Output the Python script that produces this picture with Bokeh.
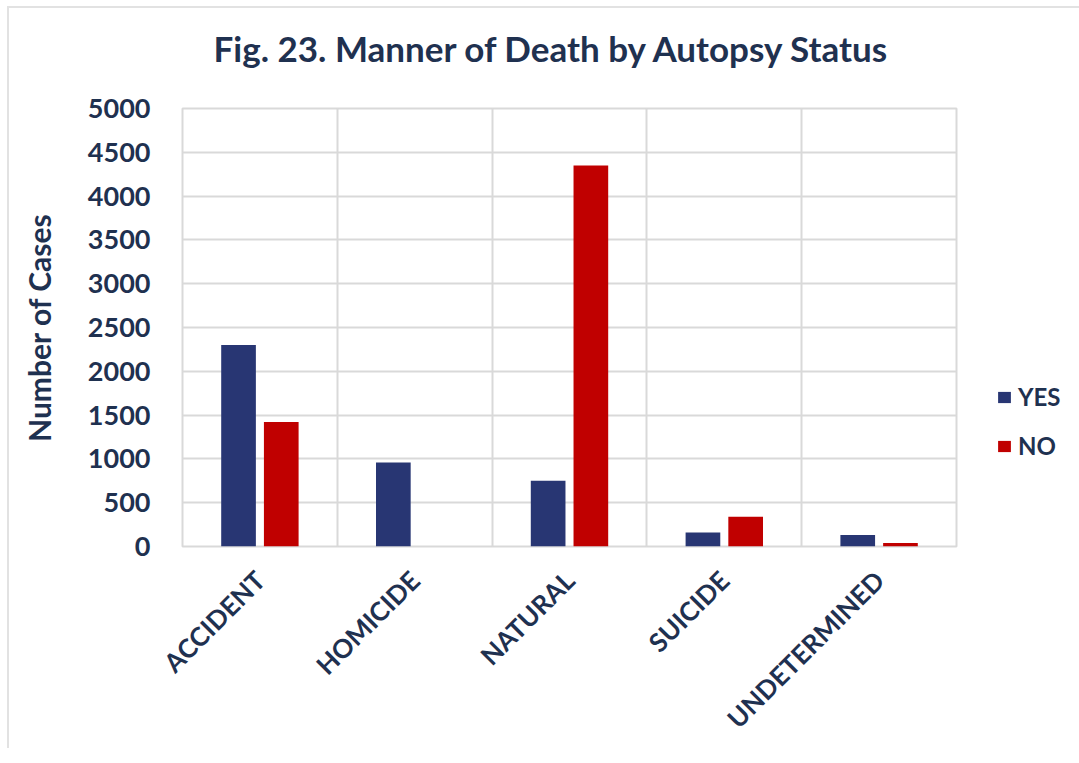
from bokeh.plotting import figure
from bokeh.models import ColumnDataSource, FixedTicker, Legend, LegendItem
from bokeh.transform import dodge
from bokeh.embed import file_html
from bokeh.resources import INLINE
import math

categories = ["ACCIDENT", "HOMICIDE", "NATURAL", "SUICIDE", "UNDETERMINED"]
yes_values = [2300, 960, 750, 160, 130]
no_values = [1420, 0, 4350, 340, 40]
y_ticks = [0, 500, 1000, 1500, 2000, 2500, 3000, 3500, 4000, 4500, 5000]
series_names = ["YES", "NO"]

NAVY = "#283673"
RED = "#C00000"
TEXT = "#1f3150"
GRID = "#d9d9d9"
EDGE = "#e2e2e2"
FONT = "Lato"

src = ColumnDataSource(dict(cat=categories, yes=yes_values, no=no_values))

p = figure(
    x_range=categories, y_range=(0, 5000),
    frame_width=774, frame_height=438,
    output_backend="svg", toolbar_location=None,
    min_border_left=175, min_border_right=108,
    min_border_top=124, min_border_bottom=200,
    title="Fig. 23. Manner of Death by Autopsy Status",
)
# thin outer edge of the chart area (top and left), drawn behind a transparent canvas
p.styles = {
    "margin-left": "7px",
    "margin-top": "-16px",
    "background": (f"linear-gradient({EDGE},{EDGE}) 0 22px / 100% 2px no-repeat, "
                   f"linear-gradient({EDGE},{EDGE}) 0 22px / 2px 100% no-repeat"),
}
p.border_fill_color = None
p.background_fill_color = "white"

r_yes = p.vbar(x=dodge("cat", -0.138, range=p.x_range), top="yes", width=0.224,
               source=src, fill_color=NAVY, line_color=None)
r_no = p.vbar(x=dodge("cat", 0.138, range=p.x_range), top="no", width=0.224,
              source=src, fill_color=RED, line_color=None)

# title
p.title.text_font = FONT
p.title.text_font_size = "35px"
p.title.text_font_style = "bold"
p.title.text_color = TEXT
p.title.align = "left"
p.title.offset = 31
p.title.standoff = 80

# frame
p.outline_line_color = GRID
p.outline_line_width = 2

# grids
p.ygrid.ticker = FixedTicker(ticks=y_ticks)
p.ygrid.grid_line_color = GRID
p.ygrid.grid_line_width = 2
p.xgrid.ticker = FixedTicker(ticks=list(range(1, len(categories))))
p.xgrid.grid_line_color = GRID
p.xgrid.grid_line_width = 2

# y axis
p.yaxis.ticker = FixedTicker(ticks=y_ticks)
p.yaxis.axis_line_color = None
p.yaxis.major_tick_line_color = None
p.yaxis.minor_tick_line_color = None
p.yaxis.major_tick_out = 0
p.yaxis.major_tick_in = 0
p.yaxis.minor_tick_out = 0
p.yaxis.major_label_text_font = FONT
p.yaxis.major_label_text_font_size = "27px"
p.yaxis.major_label_text_font_style = "bold"
p.yaxis.major_label_text_color = TEXT
p.yaxis.major_label_standoff = 32
p.yaxis.axis_label = "Number of Cases"
p.yaxis.axis_label_text_font = FONT
p.yaxis.axis_label_text_font_size = "30px"
p.yaxis.axis_label_text_font_style = "bold"
p.yaxis.axis_label_text_color = TEXT
p.yaxis.axis_label_standoff = 28

# x axis
p.xaxis.axis_line_color = None
p.xaxis.major_tick_line_color = None
p.xaxis.minor_tick_line_color = None
p.xaxis.major_tick_out = 0
p.xaxis.major_tick_in = 0
p.xaxis.major_label_orientation = math.pi / 4
p.xaxis.major_label_text_font = FONT
p.xaxis.major_label_text_font_size = "26px"
p.xaxis.major_label_text_font_style = "bold"
p.xaxis.major_label_text_color = TEXT
p.xaxis.major_label_standoff = 29

legend = Legend(
    items=[LegendItem(label=series_names[0], renderers=[r_yes]),
           LegendItem(label=series_names[1], renderers=[r_no])],
    location=(40, 86),
    padding=0, margin=0, spacing=20,
    glyph_width=16, glyph_height=14, label_height=26,
    label_standoff=6,
    label_text_font=FONT, label_text_font_size="24px",
    label_text_font_style="bold", label_text_color=TEXT,
    border_line_color=None, background_fill_alpha=0,
)
p.add_layout(legend, "right")

open("out.html", "w").write(file_html(p, INLINE))
